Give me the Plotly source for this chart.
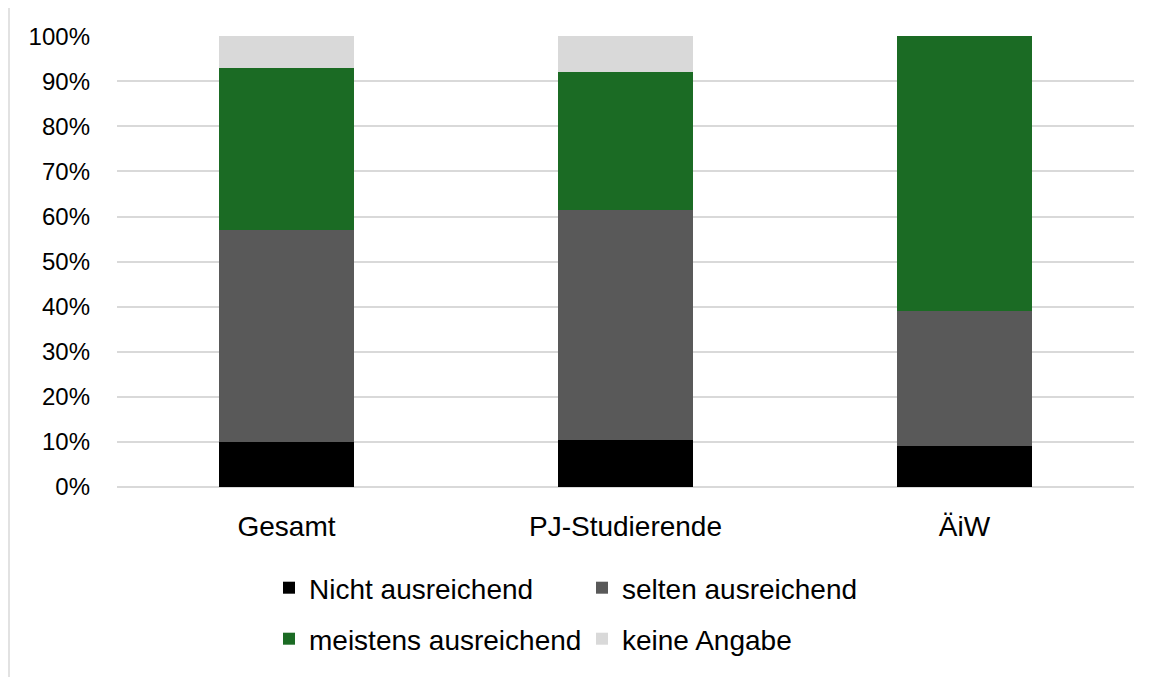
import plotly.graph_objects as go

categories = ["Gesamt", "PJ-Studierende", "ÄiW"]
nicht_ausreichend = [0.10, 0.105, 0.09]
selten_ausreichend = [0.47, 0.51, 0.30]
meistens_ausreichend = [0.36, 0.305, 0.61]
keine_angabe = [0.07, 0.08, 0.0]

series = [
    ("Nicht ausreichend", nicht_ausreichend, "#000000", "legend"),
    ("selten ausreichend", selten_ausreichend, "#595959", "legend"),
    ("meistens ausreichend", meistens_ausreichend, "#1b6b24", "legend2"),
    ("keine Angabe", keine_angabe, "#d9d9d9", "legend2"),
]

FONT = "Liberation Sans, Arial, sans-serif"

fig = go.Figure()
for name, vals, color, lg in series:
    fig.add_trace(go.Bar(
        x=categories, y=vals, name=name, legend=lg,
        marker=dict(color=color, line=dict(width=0)),
    ))

# the page body adds an 8px offset; layout is expressed in screen pixels
OFF = 8
W, H = 1155, 677
PL, PR, PT, PB = 117, 1134, 36, 487  # plot area in screen px
L, T = PL - OFF, PT - OFF
R = W - (PR - OFF)
B = H - (PB - OFF)
pw, ph = PR - PL, PB - PT


def px(x):
    return (x - PL) / pw


def py(y):
    return (PB - y) / ph


legend_common = dict(
    orientation="h", xanchor="left", yanchor="middle",
    font=dict(family=FONT, size=28, color="#000000"),
    entrywidth=268, entrywidthmode="pixels",
    traceorder="normal", bgcolor="rgba(0,0,0,0)",
    itemclick=False, itemdoubleclick=False,
)

fig.update_layout(
    width=W, height=H,
    margin=dict(l=L, r=R, t=T, b=B),
    paper_bgcolor="white", plot_bgcolor="white",
    barmode="stack", bargap=0.6,
    font=dict(family=FONT, color="#000000"),
    showlegend=True,
    legend=dict(x=px(269), y=py(588), **legend_common),
    legend2=dict(x=px(269), y=py(639), **legend_common),
    xaxis=dict(
        showgrid=False, showline=False, zeroline=False,
        tickfont=dict(family=FONT, size=28, color="#000000"),
        ticks="", ticklabelstandoff=20,
    ),
    yaxis=dict(
        range=[0, 1.0005], tickmode="array",
        tickvals=[i / 10 for i in range(11)],
        tickformat=".0%",
        showgrid=True, gridcolor="#d9d9d9", gridwidth=1.5,
        zeroline=True, zerolinecolor="#d9d9d9", zerolinewidth=1.5,
        showline=False, ticks="",
        tickfont=dict(family=FONT, size=24, color="#000000"),
        ticklabelstandoff=26,
    ),
    shapes=[
        dict(type="line", xref="paper", yref="paper",
             x0=px(9), x1=px(1170), y0=py(7), y1=py(7),
             line=dict(color="#d9d9d9", width=1.5), layer="below"),
        dict(type="line", xref="paper", yref="paper",
             x0=px(9), x1=px(9), y0=py(7), y1=py(700),
             line=dict(color="#d9d9d9", width=1.5), layer="below"),
    ],
)

fig.write_html("out.html")
